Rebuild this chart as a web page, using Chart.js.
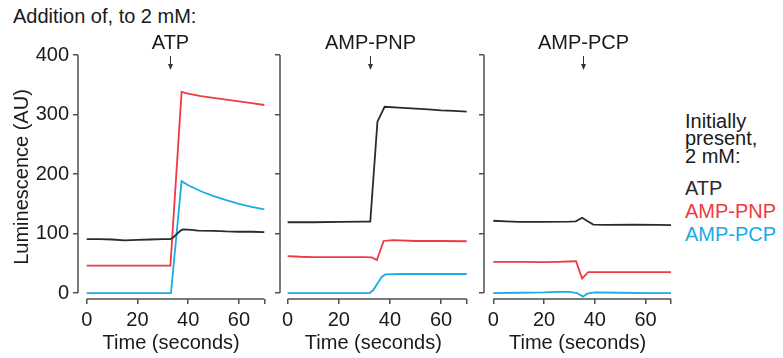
<!DOCTYPE html>
<html>
<head>
<meta charset="utf-8">
<script src="https://cdn.jsdelivr.net/npm/chart.js@4.4.1/dist/chart.umd.min.js"></script>
<style>
  body { margin: 0; background: #fff; }
  #wrap { position: relative; width: 783px; height: 358px; overflow: hidden; background: #fff;
          font-family: "Liberation Sans", Arial, sans-serif; color: #1a1a1a; }
  #wrap canvas { position: absolute; top: 0; }
  .txt { position: absolute; font-size: 20px; line-height: 20px; white-space: nowrap; }
</style>
</head>
<body>
<div id="wrap">
  <div class="txt" style="left:13px; top:6px;">Addition of, to 2 mM:</div>
  <canvas id="c1" width="275" height="358" style="left:0px"></canvas>
  <canvas id="c2" width="200" height="358" style="left:272px"></canvas>
  <canvas id="c3" width="200" height="358" style="left:476px"></canvas>
  <div class="txt" style="left:685px; top:111px;">Initially</div>
  <div class="txt" style="left:685px; top:128px;">present,</div>
  <div class="txt" style="left:685px; top:146px;">2 mM:</div>
  <div class="txt" style="left:685px; top:178px; color:#2b2b2b;">ATP</div>
  <div class="txt" style="left:685px; top:201px; color:#ee3a43;">AMP-PNP</div>
  <div class="txt" style="left:685px; top:224px; color:#1aabe8;">AMP-PCP</div>
</div>
<script>
// what was added in each panel, and when (seconds)
var addedNames = ['ATP', 'AMP-PNP', 'AMP-PCP'];
var addedAt = [32.8, 32.2, 35.3];

// series = nucleotide initially present
var seriesNames = ['ATP', 'AMP-PNP', 'AMP-PCP'];
var seriesColors = ['#2b2b2b', '#ee3a43', '#1aabe8'];

var xTicks = [0, 20, 40, 60, 70];
var yTicks = [0, 100, 200, 300, 400];

// panel 1: ATP added
var p1AtpT = [0, 5, 10, 15, 20, 25, 30, 32.8, 34, 35.5, 37, 38, 40, 44, 50, 55, 60, 65, 70];
var p1AtpV = [90.5, 90.5, 90, 88.5, 89.5, 90, 90.5, 90.5, 93, 99, 105, 107, 106.5, 105, 104.5, 103.5, 103, 103, 102.5];
var p1PnpT = [0, 33, 37.4, 40, 45, 50, 55, 60, 65, 70];
var p1PnpV = [46, 46, 338, 335, 331, 328, 325, 322, 319, 316];
var p1PcpT = [0, 33.2, 37.4, 40, 45, 50, 55, 60, 65, 70];
var p1PcpV = [0, 0, 188, 181, 171, 163, 156, 150, 145, 140.5];

// panel 2: AMP-PNP added
var p2AtpT = [0, 10, 20, 30, 32.3, 35.1, 37.9, 45, 50, 55, 60, 65, 70];
var p2AtpV = [119, 119, 119.5, 120, 120, 288, 313, 311, 310, 308.5, 307, 306, 305];
var p2PnpT = [0, 5, 10, 20, 30, 32.9, 34.9, 37.5, 41, 50, 60, 70];
var p2PnpV = [62, 61, 60.5, 60.5, 60.5, 60, 55.5, 87.5, 89, 87.5, 87.5, 87];
var p2PcpT = [0, 20, 32, 33.5, 35.1, 36.8, 38.2, 45, 55, 70];
var p2PcpV = [0, 0, 0, 5, 16, 27, 31.5, 32, 32, 32];

// panel 3: AMP-PCP added
var p3AtpT = [0, 5, 10, 20, 30, 32.5, 35, 37, 39.4, 45, 55, 65, 70];
var p3AtpV = [121.5, 120.5, 119.5, 119.5, 120, 120.5, 126.5, 121, 115, 114.5, 115, 114.5, 114];
var p3PnpT = [0, 10, 20, 25, 30, 32.6, 35, 37.4, 45, 55, 70];
var p3PnpV = [52.5, 52.5, 52, 52.5, 53, 53.5, 24.5, 35, 35, 35, 35];
var p3PcpT = [0, 10, 20, 25, 30, 33, 35.3, 37, 40, 50, 60, 70];
var p3PcpV = [0, 0.5, 1, 2, 2, 0, -6, -1, 1, 0.5, 0, 0];

var axisColor = '#505050';
var fontFam = '"Liberation Sans", Arial, sans-serif';

function pts(t, v) {
	var out = [];
	for (var i = 0; i < t.length; i++) out.push({x: t[i], y: v[i]});
	return out;
}

// axis lines only over the data range, plus the addition arrow and label
var panelDecor = {
	id: 'panelDecor',
	afterDraw: function(chart, args, opts) {
		var ctx = chart.ctx, x = chart.scales.x, y = chart.scales.y, area = chart.chartArea;
		ctx.save();
		ctx.strokeStyle = axisColor;
		ctx.lineWidth = 1.5;
		ctx.beginPath();
		ctx.moveTo(area.left, y.getPixelForValue(yTicks[yTicks.length - 1]));
		ctx.lineTo(area.left, y.getPixelForValue(0));
		ctx.moveTo(x.getPixelForValue(0), area.bottom);
		ctx.lineTo(x.getPixelForValue(xTicks[xTicks.length - 1]), area.bottom);
		ctx.stroke();

		var ax = Math.round(x.getPixelForValue(opts.arrowAt)) + 0.5;
		ctx.strokeStyle = '#333';
		ctx.fillStyle = '#333';
		ctx.lineWidth = 1;
		ctx.beginPath();
		ctx.moveTo(ax, 56);
		ctx.lineTo(ax, 66);
		ctx.stroke();
		ctx.beginPath();
		ctx.moveTo(ax - 2.5, 64);
		ctx.lineTo(ax + 2.5, 64);
		ctx.lineTo(ax, 70);
		ctx.closePath();
		ctx.fill();

		ctx.fillStyle = '#1a1a1a';
		ctx.font = '20px ' + fontFam;
		ctx.textAlign = 'center';
		ctx.textBaseline = 'alphabetic';
		ctx.fillText(opts.title, ax, 49);
		ctx.restore();
	}
};

function makePanel(id, idx, sets, yWidth, xMin, padRight, showY) {
	var datasets = [];
	for (var i = 0; i < sets.length; i++) {
		datasets.push({
			label: seriesNames[i],
			data: pts(sets[i][0], sets[i][1]),
			borderColor: seriesColors[i],
			borderWidth: 1.8,
			pointRadius: 0,
			tension: 0,
			fill: false,
			clip: false
		});
	}
	return new Chart(document.getElementById(id), {
		type: 'line',
		data: {datasets: datasets},
		plugins: [panelDecor],
		options: {
			responsive: false,
			animation: false,
			layout: {autoPadding: false, padding: {top: 55, right: padRight, bottom: 0, left: 0}},
			plugins: {
				legend: {display: false},
				tooltip: {enabled: false},
				panelDecor: {arrowAt: addedAt[idx], title: addedNames[idx]}
			},
			scales: {
				x: {
					type: 'linear',
					min: xMin,
					max: 70,
					afterBuildTicks: function(s) { s.ticks = xTicks.map(function(v) { return {value: v}; }); },
					afterFit: function(s) { s.height = 59; },
					border: {display: false},
					grid: {drawOnChartArea: false, drawTicks: true, tickLength: 5, color: axisColor, lineWidth: 1.5},
					ticks: {
						autoSkip: false, maxRotation: 0, padding: 4, color: '#1a1a1a',
						font: {family: fontFam, size: 20},
						callback: function(v) { return v === 70 ? '' : v; }
					},
					title: {display: true, text: 'Time (seconds)', color: '#1a1a1a',
						font: {family: fontFam, size: 20}, padding: {top: 0, bottom: 3}}
				},
				y: {
					min: -10,
					max: 400,
					afterBuildTicks: function(s) { s.ticks = yTicks.map(function(v) { return {value: v}; }); },
					afterFit: function(s) { s.width = yWidth; },
					border: {display: false},
					grid: {drawOnChartArea: false, drawTicks: true, tickLength: 5, color: axisColor, lineWidth: 1.5},
					ticks: {
						autoSkip: false, padding: 4, color: '#1a1a1a',
						font: {family: fontFam, size: 20},
						callback: function(v) { return showY ? v : ''; }
					},
					title: {display: showY, text: 'Luminescence (AU)', color: '#1a1a1a',
						font: {family: fontFam, size: 20}, padding: {top: 10, bottom: 0}}
				}
			}
		}
	});
}

makePanel('c1', 0, [[p1AtpT, p1AtpV], [p1PnpT, p1PnpV], [p1PcpT, p1PcpV]], 78, -3.43, 10.7, true);
makePanel('c2', 1, [[p2AtpT, p2AtpV], [p2PnpT, p2PnpV], [p2PcpT, p2PcpV]], 8, -3.0, 5.3, false);
makePanel('c3', 2, [[p3AtpT, p3AtpV], [p3PnpT, p3PnpV], [p3PcpT, p3PcpV]], 8, -3.66, 5, false);
</script>
</body>
</html>
